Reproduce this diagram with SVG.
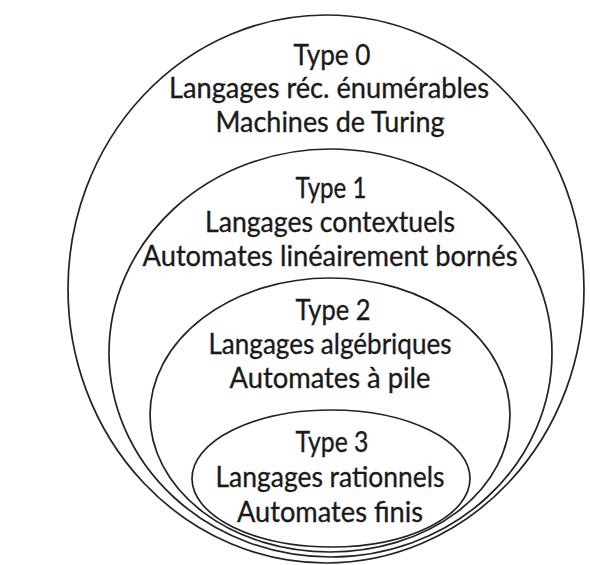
<svg xmlns="http://www.w3.org/2000/svg" width="590" height="565" viewBox="0 0 590 565">
  <style>
    .ring { fill: none; stroke: #222; stroke-width: 1.7; }
    .lbl { font-family: "Lato", "Open Sans", "Liberation Sans", sans-serif; font-size: 29px; fill: #1a1a1a; stroke: #1a1a1a; stroke-width: 0.35; text-anchor: middle; }
  </style>
  <rect width="590" height="565" fill="#fff"/>

  <!-- Chomsky hierarchy: nested classes, outermost first -->
  <g id="type0">
    <ellipse class="ring" cx="326" cy="289" rx="258" ry="274"/>
    <text class="lbl" x="332" y="65" textLength="77" lengthAdjust="spacingAndGlyphs">Type 0</text>
    <text class="lbl" x="329" y="98" textLength="320" lengthAdjust="spacingAndGlyphs">Langages réc. énumérables</text>
    <text class="lbl" x="330" y="132" textLength="229" lengthAdjust="spacingAndGlyphs">Machines de Turing</text>
  </g>

  <g id="type1">
    <ellipse class="ring" cx="330.5" cy="353" rx="221.5" ry="204"/>
    <text class="lbl" x="331" y="198" textLength="71" lengthAdjust="spacingAndGlyphs">Type 1</text>
    <text class="lbl" x="330" y="232" textLength="250" lengthAdjust="spacingAndGlyphs">Langages contextuels</text>
    <text class="lbl" x="330" y="266" textLength="375" lengthAdjust="spacingAndGlyphs">Automates linéairement bornés</text>
  </g>

  <g id="type2">
    <ellipse class="ring" cx="330" cy="415" rx="180" ry="137"/>
    <text class="lbl" x="333" y="320" textLength="75" lengthAdjust="spacingAndGlyphs">Type 2</text>
    <text class="lbl" x="330" y="354" textLength="243" lengthAdjust="spacingAndGlyphs">Langages algébriques</text>
    <text class="lbl" x="330" y="388" textLength="201" lengthAdjust="spacingAndGlyphs">Automates à pile</text>
  </g>

  <g id="type3">
    <ellipse class="ring" cx="331" cy="478.5" rx="139" ry="68.5"/>
    <text class="lbl" x="332" y="452" textLength="73" lengthAdjust="spacingAndGlyphs">Type 3</text>
    <text class="lbl" x="330" y="487" textLength="229" lengthAdjust="spacingAndGlyphs">Langages rationnels</text>
    <text class="lbl" x="330" y="522" textLength="186" lengthAdjust="spacingAndGlyphs">Automates finis</text>
  </g>
</svg>
